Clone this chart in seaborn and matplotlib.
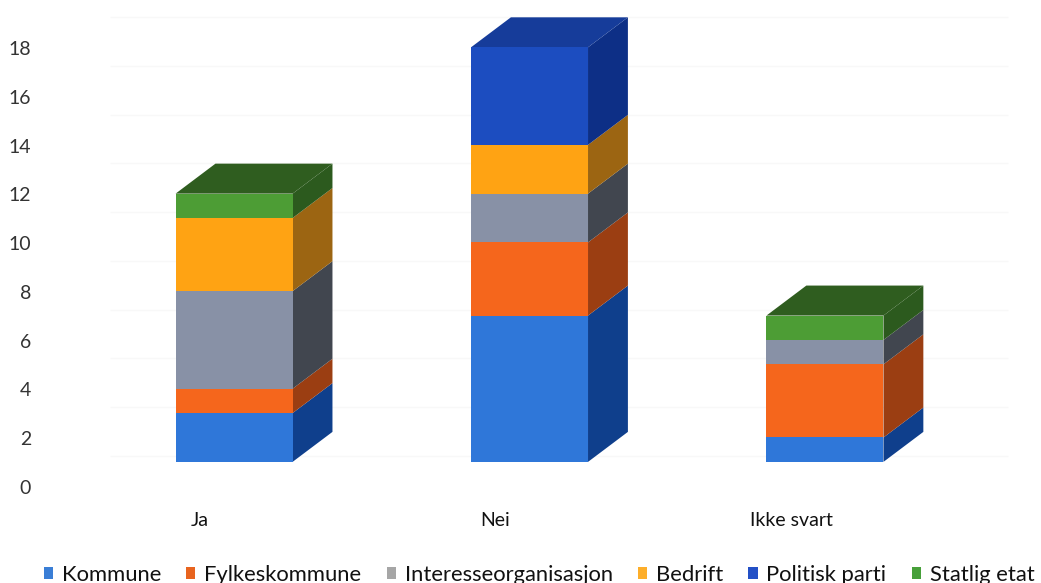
import numpy as np
import pandas as pd
import matplotlib
matplotlib.use("Agg")
import matplotlib.pyplot as plt
import matplotlib.transforms as mtransforms
from matplotlib.patches import Polygon, Patch
import seaborn as sns

# ---- data -------------------------------------------------------------
categories = ["Ja", "Nei", "Ikke svart"]
series = ["Kommune", "Fylkeskommune", "Interesseorganisasjon",
          "Bedrift", "Politisk parti", "Statlig etat"]
kommune = [2, 6, 1]
fylkeskommune = [1, 3, 3]
interesseorganisasjon = [4, 2, 1]
bedrift = [3, 2, 0]
politisk_parti = [0, 4, 0]
statlig_etat = [1, 0, 1]
y_ticks = [0, 2, 4, 6, 8, 10, 12, 14, 16, 18]

values = [kommune, fylkeskommune, interesseorganisasjon,
          bedrift, politisk_parti, statlig_etat]

# ---- styling ----------------------------------------------------------
legend_colors = ["#3A7ED6", "#E8641F", "#A6A6A6", "#FDAE2A", "#2350C6", "#47A03A"]
front_colors = ["#2F77D9", "#F5661C", "#8891A6", "#FFA313", "#1C4DC0", "#4D9D35"]
side_colors = ["#0F3F8C", "#9B3E12", "#41464F", "#9C6512", "#0D2F86", "#2C5A1E"]
top_colors = ["#2A62B8", "#C9521A", "#6C7384", "#D8891A", "#163C9A", "#2F5D1F"]

sns.set_theme(style="white")
plt.rcParams["font.family"] = ["Lato", "DejaVu Sans"]

fig = plt.figure(figsize=(10.41, 5.83), dpi=100)
ax = fig.add_axes([45 / 1041, 96 / 583, 985 / 1041, 477 / 583])

bar_w = 0.396          # front face width (category units)
depth_x = 0.135        # oblique depth, horizontal
depth_y = 1.23         # oblique depth, vertical
floor = 1.03           # projected floor of the boxes

x_pos = np.arange(len(categories))
cum = np.zeros(len(categories))
tops = np.full(len(categories), -1)

# front faces, stacked, via seaborn
for i, (name, vals) in enumerate(zip(series, values)):
    df = pd.DataFrame({"cat": categories, "val": vals})
    sns.barplot(data=df, x="cat", y="val", bottom=floor + cum,
                color=front_colors[i], saturation=1, width=bar_w,
                errorbar=None, ax=ax, zorder=3, linewidth=0)
    for j, v in enumerate(vals):
        if v > 0:
            b = floor + cum[j]
            t = b + v
            xr = x_pos[j] + bar_w / 2
            side = Polygon([(xr, b), (xr + depth_x, b + depth_y),
                            (xr + depth_x, t + depth_y), (xr, t)],
                           closed=True, facecolor=side_colors[i],
                           edgecolor="none", zorder=2)
            ax.add_patch(side)
            tops[j] = i
    cum += np.array(vals)

# top faces
for j in range(len(categories)):
    t = floor + cum[j]
    xl = x_pos[j] - bar_w / 2
    xr = x_pos[j] + bar_w / 2
    top = Polygon([(xl, t), (xl + depth_x, t + depth_y),
                   (xr + depth_x, t + depth_y), (xr, t)],
                  closed=True, facecolor=top_colors[tops[j]],
                  edgecolor="none", zorder=2)
    ax.add_patch(top)

# faint back-wall gridlines
for v in y_ticks:
    ax.hlines(v + 1.27, -0.42, 2.62, color="#f8f8f8", lw=1.0, zorder=0)

ax.set_xlim(-0.64, 2.694)
ax.set_ylim(0, 19.56)
ax.set_yticks(y_ticks)
ax.set_yticklabels([str(t) for t in y_ticks])
ax.set_xticks(x_pos)
ax.set_xticklabels(categories)
ax.set_xlabel("")
ax.set_ylabel("")
ax.tick_params(axis="y", length=0, pad=10, labelsize=14, labelcolor="#333333")
ax.tick_params(axis="x", length=0, pad=18, labelsize=14, labelcolor="#111111")
shift = mtransforms.ScaledTranslation(-34 / 100, 0, fig.dpi_scale_trans)
for lbl in ax.get_xticklabels():
    lbl.set_transform(lbl.get_transform() + shift)
for s in ax.spines.values():
    s.set_visible(False)
ax.grid(False)

handles = [Patch(facecolor=c, edgecolor="none") for c in legend_colors]
fig.legend(handles, series, loc="center", ncol=6,
           bbox_to_anchor=(539 / 1041, 1 - 575 / 583), frameon=False,
           fontsize=15.8, handlelength=0.42, handleheight=0.42,
           handletextpad=0.4, columnspacing=1.15, labelcolor="#111111",
           borderaxespad=0, borderpad=0)

fig.savefig("out.png", dpi=100)
